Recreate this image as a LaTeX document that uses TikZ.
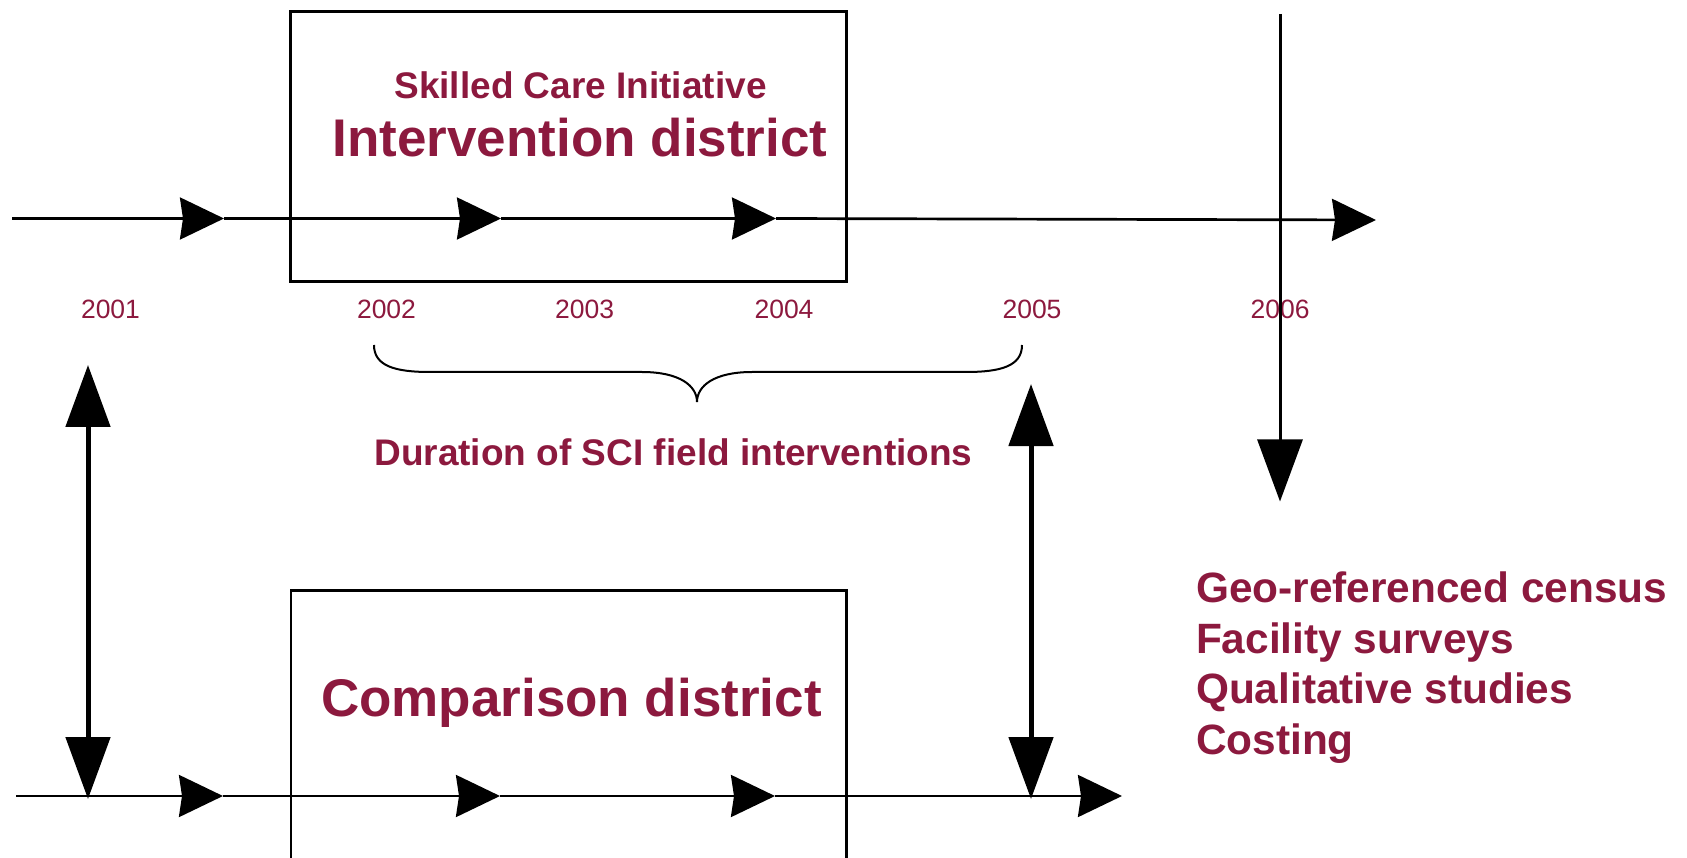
\documentclass[tikz,border=0pt]{standalone}
\usepackage{fontspec}
\setmainfont{Liberation Sans}
\usetikzlibrary{arrows.meta}
\definecolor{maroon}{RGB}{140,25,62}
\begin{document}
\begin{tikzpicture}[x=1pt,y=-1pt,
  every node/.style={inner sep=0pt, outer sep=0pt},
  yearlbl/.style={anchor=base, text=maroon, font=\fontsize{26.5}{30}\selectfont},
  boldlbl/.style={anchor=base, text=maroon, font=\bfseries\fontsize{#1}{#1}\selectfont},
  listlbl/.style={anchor=base west, text=maroon, font=\bfseries\fontsize{42.4}{50}\selectfont},
  timeline/.style={line width=2.7pt, -{Stealth[length=44pt,width=42pt,inset=3pt]}},
  bigarrow/.style={line width=#1, -{Triangle[length=62pt,width=45pt]}},
  twoway/.style={line width=5pt, {Triangle[length=62pt,width=44pt]}-{Triangle[length=62pt,width=44pt]}},
  districtbox/.style={draw, line width=3pt, minimum width=556pt, minimum height=270pt}
]
\useasboundingbox (0,0) rectangle (1687,858);
\clip (0,0) rectangle (1687,858);

% intervention district frame
\node[districtbox] (ibox) at (568.5,146.7) {};

% comparison district frame, running off the lower edge
\coordinate (cbl) at (291,870);
\coordinate (ctl) at (291,590.5);
\coordinate (ctr) at (846.5,590.5);
\coordinate (cbr) at (846.5,870);
\draw[line width=2.7pt] (cbl) -- (ctl) -- (ctr) -- (cbr);

% top time line
\coordinate (t0) at (12,218.5);
\coordinate (t1) at (224,218.5);
\coordinate (t2) at (501,218.5);
\coordinate (t3) at (776,218.5);
\coordinate (t4) at (1376,220);
\draw[timeline] (t0) -- (t1);
\draw[timeline] (t1) -- (t2);
\draw[timeline] (t2) -- (t3);
\draw[timeline] (t3) -- (t4);

% bottom time line
\coordinate (b0) at (16,796);
\coordinate (b1) at (223,796);
\coordinate (b2) at (500,796);
\coordinate (b3) at (775,796);
\coordinate (b4) at (1122,796);
\draw[timeline] (b0) -- (b1);
\draw[timeline] (b1) -- (b2);
\draw[timeline] (b2) -- (b3);
\draw[timeline] (b3) -- (b4);

% box titles
\node[boldlbl=37] (sci) at (580.5,98.3) {Skilled Care Initiative};
\node[boldlbl=53] (intv) at (580,156.7) {Intervention district};
\node[boldlbl=53] (comp) at (571.4,716.7) {Comparison district};

% years
\node[yearlbl] (y1) at (110.5,319) {2001};
\node[yearlbl] (y2) at (386.5,319) {2002};
\node[yearlbl] (y3) at (584.7,319) {2003};
\node[yearlbl] (y4) at (784,319) {2004};
\node[yearlbl] (y5) at (1032,319) {2005};
\node[yearlbl] (y6) at (1280.2,319) {2006};

% 2006 survey marker
\coordinate (vtop) at (1280,14);
\coordinate (vbot) at (1280,501.5);
\draw[bigarrow=3pt] (vtop) -- (vbot);

% links between the two districts
\coordinate (la) at (88,365);
\coordinate (lb) at (88,799);
\coordinate (ra) at (1031,384);
\coordinate (rb) at (1031,799);
\draw[twoway] (la) -- (lb);
\draw[twoway] (ra) -- (rb);

% brace under the intervention years
\coordinate (brl) at (374,345);
\coordinate (brm) at (697,402);
\coordinate (brr) at (1022,345);
\draw[line width=2pt] (brl) .. controls (374,366) and (395,372) .. (430,372)
  -- (642,372) .. controls (680,372) and (697,386) .. (brm)
  .. controls (697,386) and (714,372) .. (752,372)
  -- (966,372) .. controls (1001,372) and (1022,366) .. (brr);
\node[boldlbl=37] (dur) at (673.4,465.7) {Duration of SCI field interventions};

% data sources
\node[listlbl] (l1) at (1196,602.7) {Geo-referenced census};
\node[listlbl] (l2) at (1196,653) {Facility surveys};
\node[listlbl] (l3) at (1196,703.4) {Qualitative studies};
\node[listlbl] (l4) at (1196,754) {Costing};
\end{tikzpicture}
\end{document}
